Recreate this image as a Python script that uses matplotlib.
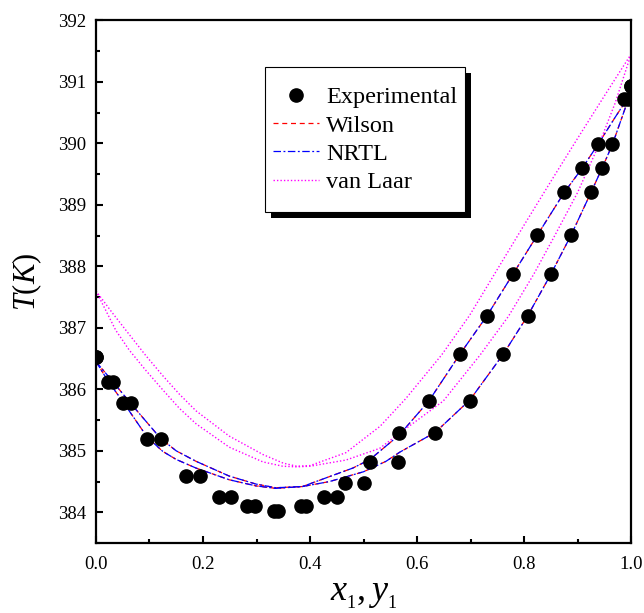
import matplotlib
matplotlib.use("Agg")
import matplotlib.pyplot as plt
from matplotlib.patches import Rectangle
from matplotlib.ticker import MultipleLocator

plt.rcParams['font.family'] = ['Liberation Serif', 'DejaVu Serif']
plt.rcParams['mathtext.fontset'] = 'custom'
plt.rcParams['mathtext.rm'] = 'Liberation Serif'
plt.rcParams['mathtext.it'] = 'Liberation Serif:italic'

# experimental T-x-y data
T_exp = [386.52, 386.12, 385.77, 385.20, 384.59, 384.25, 384.11, 384.03, 384.10,
         384.25, 384.47, 384.82, 385.29, 385.81, 386.57, 387.20, 387.87, 388.51,
         389.20, 389.60, 389.98, 390.72, 390.93]
x_exp = [0.0, 0.023, 0.051, 0.096, 0.168, 0.229, 0.282, 0.333, 0.393,
         0.450, 0.500, 0.565, 0.634, 0.699, 0.761, 0.807, 0.850, 0.888,
         0.925, 0.946, 0.965, 0.995, 1.0]
y_exp = [0.0, 0.032, 0.065, 0.121, 0.195, 0.252, 0.297, 0.341, 0.383,
         0.426, 0.465, 0.512, 0.567, 0.622, 0.680, 0.731, 0.779, 0.825,
         0.875, 0.909, 0.938, 0.986, 1.0]

# Wilson model (bubble and dew curves)
wil_bub_x = [0.0, 0.023, 0.051, 0.096, 0.125, 0.15, 0.187, 0.249, 0.299, 0.336,
             0.386, 0.436, 0.500, 0.542, 0.568, 0.634, 0.699, 0.761, 0.807,
             0.850, 0.888, 0.925, 0.946, 0.965, 0.995, 1.0]
wil_bub_T = [386.45, 386.13, 385.79, 385.22, 384.99, 384.86, 384.72, 384.53, 384.43, 384.39,
             384.42, 384.50, 384.66, 384.83, 384.98, 385.30, 385.83, 386.57, 387.20,
             387.87, 388.51, 389.20, 389.60, 389.98, 390.72, 390.82]
wil_dew_x = [0.0, 0.032, 0.065, 0.121, 0.15, 0.187, 0.249, 0.299, 0.336,
             0.386, 0.436, 0.48, 0.512, 0.567, 0.622, 0.680, 0.731, 0.779,
             0.825, 0.875, 0.909, 0.938, 0.97, 1.0]
wil_dew_T = [386.45, 386.12, 385.77, 385.20, 385.00, 384.83, 384.59, 384.46, 384.40,
             384.42, 384.58, 384.72, 384.86, 385.26, 385.81, 386.57, 387.20, 387.87,
             388.51, 389.20, 389.60, 389.98, 390.42, 390.82]

# NRTL model
nrtl_bub_x = [0.0, 0.023, 0.051, 0.096, 0.125, 0.15, 0.187, 0.249, 0.299, 0.336,
              0.386, 0.436, 0.500, 0.542, 0.568, 0.634, 0.699, 0.761, 0.807,
              0.850, 0.888, 0.925, 0.946, 0.965, 0.995, 1.0]
nrtl_bub_T = [386.45, 386.13, 385.79, 385.22, 384.99, 384.86, 384.72, 384.53, 384.43, 384.39,
              384.42, 384.50, 384.66, 384.83, 384.98, 385.30, 385.83, 386.57, 387.20,
              387.87, 388.51, 389.20, 389.60, 389.98, 390.72, 390.82]
nrtl_dew_x = [0.0, 0.032, 0.065, 0.121, 0.15, 0.187, 0.249, 0.299, 0.336,
              0.386, 0.436, 0.48, 0.512, 0.567, 0.622, 0.680, 0.731, 0.779,
              0.825, 0.875, 0.909, 0.938, 0.97, 1.0]
nrtl_dew_T = [386.45, 386.12, 385.77, 385.20, 385.00, 384.83, 384.59, 384.46, 384.40,
              384.42, 384.58, 384.72, 384.86, 385.26, 385.81, 386.57, 387.20, 387.87,
              388.51, 389.20, 389.60, 389.98, 390.42, 390.82]

# van Laar model
vl_bub_x = [0.0, 0.037, 0.062, 0.093, 0.125, 0.156, 0.187, 0.249, 0.312, 0.349, 0.375,
            0.40, 0.467, 0.530, 0.568, 0.649, 0.718, 0.771, 0.818, 0.858, 0.90,
            0.94, 0.97, 1.0]
vl_bub_T = [387.60, 386.96, 386.64, 386.31, 385.99, 385.69, 385.44, 385.06, 384.82, 384.75, 384.74,
            384.75, 384.85, 385.04, 385.29, 385.81, 386.56, 387.19, 387.87, 388.51, 389.20,
            389.98, 390.65, 391.45]
vl_dew_x = [0.0, 0.03, 0.056, 0.093, 0.125, 0.156, 0.187, 0.249, 0.312, 0.35, 0.375,
            0.40, 0.467, 0.531, 0.579, 0.646, 0.698, 0.75, 0.80, 0.85, 0.90, 0.95, 1.0]
vl_dew_T = [387.60, 387.25, 386.96, 386.55, 386.22, 385.92, 385.65, 385.24, 384.94, 384.80, 384.75,
            384.76, 384.97, 385.40, 385.85, 386.56, 387.20, 387.95, 388.67, 389.38, 390.08,
            390.77, 391.45]

fig = plt.figure(figsize=(6.44, 6.13), dpi=100)
ax = fig.add_axes([0.149, 0.114, 0.831, 0.853])

ax.plot(wil_bub_x, wil_bub_T, color='red', ls=(0, (4, 3)), lw=0.9, label='Wilson')
ax.plot(wil_dew_x, wil_dew_T, color='red', ls=(0, (4, 3)), lw=0.9)
ax.plot(nrtl_bub_x, nrtl_bub_T, color='blue', ls=(0, (6, 2, 1.5, 2)), lw=0.9, label='NRTL')
ax.plot(nrtl_dew_x, nrtl_dew_T, color='blue', ls=(0, (6, 2, 1.5, 2)), lw=0.9)
ax.plot(vl_bub_x, vl_bub_T, color='magenta', ls=(0, (1, 1.5)), lw=1.0, label='van Laar')
ax.plot(vl_dew_x, vl_dew_T, color='magenta', ls=(0, (1, 1.5)), lw=1.0)

ax.plot(x_exp, T_exp, 'o', color='black', ms=9.5, label='Experimental', zorder=3)
ax.plot(y_exp, T_exp, 'o', color='black', ms=9.5, zorder=3)

ax.set_xlim(0, 1.0)
ax.set_ylim(383.5, 392)
ax.xaxis.set_major_locator(MultipleLocator(0.2))
ax.xaxis.set_minor_locator(MultipleLocator(0.1))
ax.yaxis.set_major_locator(MultipleLocator(1))
ax.yaxis.set_minor_locator(MultipleLocator(0.5))
ax.set_xticks([0.0, 0.2, 0.4, 0.6, 0.8, 1.0])
ax.set_xticklabels(['0.0', '0.2', '0.4', '0.6', '0.8', '1.0'])
ax.tick_params(which='both', direction='in', top=False, right=False, labelsize=13.5, width=1.5)
ax.tick_params(which='major', length=5)
ax.tick_params(which='minor', length=3)
ax.tick_params(axis='x', pad=9)
ax.tick_params(axis='y', pad=7)
for s in ax.spines.values():
    s.set_linewidth(1.6)

ax.set_ylabel(r'$T(K)$', fontsize=22, labelpad=10)
ax.set_xlabel(r'$x_{_1}, y_{_1}$', fontsize=26, labelpad=4)

# legend box with solid shadow
bx0, bx1, by0, by1 = 0.316, 0.690, 0.633, 0.910
dx, dy = 6 / 535, 6 / 523
ax.add_patch(Rectangle((bx0 + dx, by0 - dy), bx1 - bx0, by1 - by0, transform=ax.transAxes,
                       facecolor='black', edgecolor='none', zorder=4.7, clip_on=False))
ax.add_patch(Rectangle((bx0, by0), bx1 - bx0, by1 - by0, transform=ax.transAxes,
                       facecolor='white', edgecolor='black', lw=0.8, zorder=4.8, clip_on=False))

h, l = ax.get_legend_handles_labels()
order = [3, 0, 1, 2]
leg = ax.legend([h[i] for i in order], [l[i] for i in order], loc='center',
                bbox_to_anchor=((bx0 + bx1) / 2, (by0 + by1) / 2), borderaxespad=0,
                fontsize=17.5, frameon=False, handlelength=1.9,
                handletextpad=0.3, labelspacing=0.26, borderpad=0, numpoints=1)
leg.set_zorder(5)

fig.savefig('out.png', dpi=100)
